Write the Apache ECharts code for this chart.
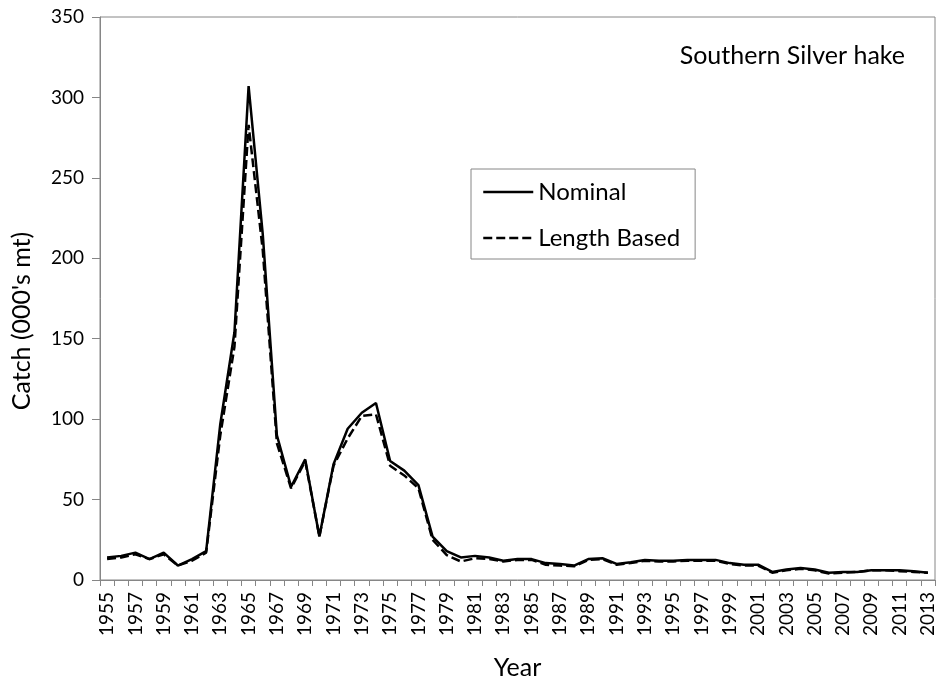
<!DOCTYPE html>
<html>
<head>
<meta charset="utf-8">
<script src="https://cdn.jsdelivr.net/npm/echarts@6/dist/echarts.min.js"></script>
<style>
html,body{margin:0;padding:0;background:#fff;}
#chart{width:937px;height:681px;}
</style>
</head>
<body>
<div id="chart"></div>
<script>
var years = [];
for (var y = 1955; y <= 2013; y++) years.push(String(y));

var nominal = [
  14, 15, 17, 13, 17, 9, 13, 18, 97, 154,
  307, 215, 90, 58, 75, 27, 72, 94, 104, 110,
  74, 68, 59, 27, 18, 14, 15, 14, 12, 13,
  13, 10.5, 10, 9, 13, 13.5, 10, 11, 12.5, 12,
  12, 12.5, 12.5, 12.5, 10.5, 9.5, 9.5, 5, 6.5, 7.5,
  6.5, 4.5, 5, 5, 6, 6, 6, 5.5, 4.5
];

var lengthBased = [
  13, 14, 16, 13, 16, 9, 12, 17, 90, 145,
  283, 205, 85, 57, 74, 27, 71, 88, 102, 103,
  71, 65, 57, 25, 15.5, 11.5, 13.5, 13, 11.5, 12.5,
  12.5, 9.5, 9, 8.5, 12.5, 13, 9.5, 10.5, 12, 11.5,
  11.5, 12, 12, 12, 10, 9, 9, 4.5, 6, 7,
  6, 4, 4.5, 5, 6, 6, 5.5, 5, 4.5
];

var yTicks = [0, 50, 100, 150, 200, 250, 300, 350];

var FONT = 'Lato';
var chart = echarts.init(document.getElementById('chart'));
chart.setOption({
  animation: false,
  backgroundColor: '#fff',
  textStyle: { fontFamily: FONT },
  grid: {
    left: 100, right: 2, top: 17, bottom: 101,
    containLabel: false,
    outerBoundsMode: 'none',
    show: true, borderColor: '#868686', borderWidth: 1
  },
  legend: {
    orient: 'vertical',
    left: 471, top: 169,
    data: ['Nominal', 'Length Based'],
    itemWidth: 50, itemHeight: 14, itemGap: 22,
    padding: [11, 15, 9, 11],
    borderColor: '#868686', borderWidth: 1,
    itemStyle: { opacity: 0 },
    lineStyle: { width: 2.5 },
    textStyle: { fontFamily: FONT, fontSize: 24, color: '#000' }
  },
  graphic: [{
    type: 'text',
    right: 32, top: 43,
    style: { text: 'Southern Silver hake', font: '25px ' + FONT, fill: '#000' }
  }, {
    type: 'text',
    x: 22, y: 321,
    rotation: Math.PI / 2,
    style: {
      text: "Catch (000's mt)", font: '25px ' + FONT, fill: '#000',
      align: 'center', verticalAlign: 'middle'
    }
  }],
  xAxis: {
    type: 'category',
    data: years,
    boundaryGap: true,
    name: 'Year',
    nameLocation: 'middle',
    nameGap: 75,
    nameTextStyle: { fontFamily: FONT, fontSize: 25, color: '#000' },
    axisLine: { lineStyle: { color: '#868686', width: 1 } },
    axisTick: { show: true, interval: 0, length: 6, lineStyle: { color: '#868686' } },
    axisLabel: { interval: 1, rotate: 90, margin: 12, fontFamily: FONT, fontSize: 19, color: '#000' },
    splitLine: { show: false }
  },
  yAxis: {
    type: 'value',
    min: yTicks[0], max: yTicks[yTicks.length - 1], interval: 50,
    axisLine: { show: true, lineStyle: { color: '#868686', width: 1 } },
    axisTick: { show: true, length: 8, lineStyle: { color: '#868686' } },
    axisLabel: { margin: 16, fontFamily: FONT, fontSize: 19, color: '#000' },
    splitLine: { show: false }
  },
  series: [
    {
      name: 'Length Based',
      type: 'line',
      data: lengthBased,
      symbol: 'none',
      lineStyle: { color: '#000', width: 2.5, type: [9, 4] },
      itemStyle: { color: '#000' },
      z: 2
    },
    {
      name: 'Nominal',
      type: 'line',
      data: nominal,
      symbol: 'none',
      lineStyle: { color: '#000', width: 2.5, type: 'solid' },
      itemStyle: { color: '#000' },
      z: 3
    }
  ]
});
</script>
</body>
</html>
